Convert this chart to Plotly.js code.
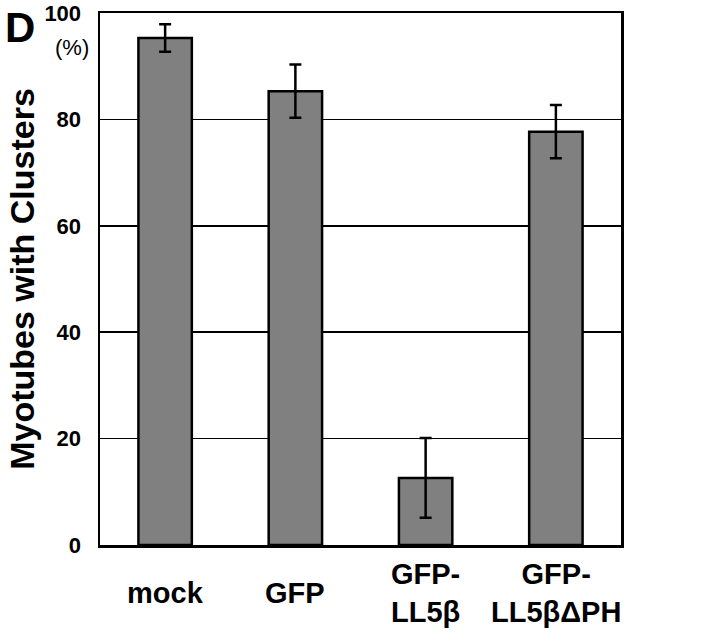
<!DOCTYPE html>
<html>
<head>
<meta charset="utf-8">
<script src="https://cdn.plot.ly/plotly-3.0.1.min.js"></script>
<style>html,body{margin:0;padding:0;background:#fff;}#chart{width:720px;height:644px;}</style>
</head>
<body>
<div id="chart"></div>
<script>
const categories = ["mock", "GFP", "GFP-LL5β", "GFP-LL5βΔPH"];
const categoryLabels = ["mock", "GFP", "GFP-<br>LL5β", "GFP-<br>LL5βΔPH"];
const values = [95.3, 85.3, 12.6, 77.7];
const errors = [2.6, 5.0, 7.5, 5.0];
const yTickVals = [0, 20, 40, 60, 80, 100];
const yTickText = ["0", "20", "40", "60", "80", "100"];

const FONT = "Liberation Sans, Arial, Helvetica, sans-serif";

const trace = {
  type: "bar",
  x: categories,
  y: values,
  width: 0.41,
  marker: {color: "#808080", line: {color: "#000", width: 2.5}},
  error_y: {type: "data", array: errors, visible: true, color: "#000", thickness: 2.5, width: 6},
  hoverinfo: "skip"
};

const annotations = categories.map((c, i) => ({
  x: c, xref: "x", y: -0.09, yref: "paper",
  text: categoryLabels[i], showarrow: false,
  xanchor: "center", yanchor: "middle", align: "center",
  font: {family: FONT, size: 29, weight: "bold", color: "#000"}
}));
annotations.push({
  x: -0.053, xref: "paper", y: 0.936, yref: "paper", text: "(%)", showarrow: false,
  xanchor: "center", yanchor: "middle",
  font: {family: FONT, size: 22, color: "#000"}
});
annotations.push({
  x: -0.186, xref: "paper", y: 0.972, yref: "paper", text: "D", showarrow: false,
  xanchor: "left", yanchor: "middle",
  font: {family: FONT, size: 42, weight: "bold", color: "#000"}
});

const layout = {
  width: 720, height: 644,
  margin: {l: 100, r: 99, t: 13, b: 99},
  paper_bgcolor: "#fff", plot_bgcolor: "#fff",
  showlegend: false,
  xaxis: {
    type: "category", categoryarray: categories, range: [-0.5, 3.5],
    showticklabels: false, ticks: "", showgrid: false,
    showline: true, linecolor: "#000", linewidth: 2.5, mirror: true, zeroline: false
  },
  yaxis: {
    range: [0, 100], tickvals: yTickVals, ticktext: yTickText,
    ticks: "outside", ticklen: 12, tickcolor: "rgba(0,0,0,0)",
    tickfont: {family: FONT, size: 22, weight: "bold", color: "#000"},
    showgrid: true, gridcolor: "#000", gridwidth: 1.5, zeroline: false,
    showline: true, linecolor: "#000", linewidth: 2.5, mirror: true,
    title: {text: "Myotubes with Clusters", standoff: 0,
            font: {family: FONT, size: 34, weight: "bold", color: "#000"}}
  },
  annotations: annotations
};

Plotly.newPlot("chart", [trace], layout, {displayModeBar: false, staticPlot: true});
</script>
</body>
</html>
